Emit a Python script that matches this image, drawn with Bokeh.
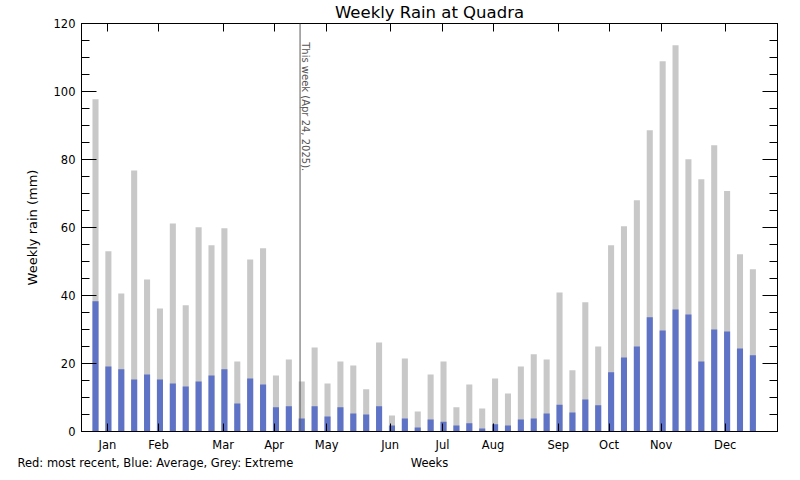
import math
from bokeh.plotting import figure
from bokeh.models import (ColumnDataSource, Range1d, LinearAxis, FixedTicker,
                          SingleIntervalTicker, Span, Label, Title,
                          CustomJSTickFormatter)
from bokeh.embed import file_html
from bokeh.resources import INLINE

# ---- data ----
weeks = list(range(1, 53))
extreme = [97.7, 53.0, 40.6, 76.8, 44.7, 36.2, 61.2, 37.1, 60.1, 54.8, 59.8, 20.6,
           50.6, 53.9, 16.5, 21.2, 14.7, 24.7, 14.1, 20.6, 19.4, 12.4, 26.2, 4.7,
           21.5, 5.9, 16.8, 20.6, 7.1, 13.8, 6.8, 15.6, 11.2, 19.1, 22.7, 21.2,
           40.9, 18.0, 38.0, 25.0, 54.8, 60.4, 68.0, 88.6, 108.9, 113.6, 80.1, 74.2,
           84.2, 70.7, 52.1, 47.7]
average = [38.3, 19.1, 18.3, 15.3, 16.8, 15.3, 14.1, 13.2, 14.7, 16.5, 18.3, 8.2,
           15.6, 13.8, 7.1, 7.4, 3.8, 7.4, 4.4, 7.1, 5.3, 5.0, 7.4, 1.8,
           3.8, 1.2, 3.5, 2.9, 1.8, 2.4, 0.9, 2.1, 1.8, 3.5, 3.8, 5.3,
           7.9, 5.6, 9.4, 7.7, 17.4, 21.8, 25.0, 33.6, 29.7, 35.9, 34.4, 20.6,
           30.0, 29.4, 24.4, 22.4]
month_names = ["Jan", "Feb", "Mar", "Apr", "May", "Jun", "Jul", "Aug", "Sep",
               "Oct", "Nov", "Dec"]
month_ticks = [1.93, 5.89, 10.9, 14.86, 18.93, 23.86, 27.92, 31.84, 36.9, 40.84,
               44.88, 49.85]
this_week = 16.87
this_week_text = "This week (Apr 24, 2025)."
title_text = "Weekly Rain at Quadra"
caption_text = "Red: most recent, Blue: Average, Grey: Extreme"

FONT = "DejaVu Sans"
GREY = "#c8c8c8"
BLUE = "#5e72c6"

src = ColumnDataSource(dict(x=weeks, extreme=extreme, average=average))

p = figure(width=792, height=472, output_backend="svg", toolbar_location=None,
           x_range=Range1d(-0.086, 53.91), y_range=Range1d(0, 120),
           x_axis_location=None, y_axis_location=None,
           min_border_left=81, min_border_right=15, min_border_top=23,
           min_border_bottom=41)
p.grid.visible = False
p.outline_line_color = "black"
p.background_fill_color = "white"
p.border_fill_color = "white"

p.title.text = title_text
p.title.align = "center"
p.title.vertical_align = "top"
p.title.text_font = FONT
p.title.text_font_size = "16.5px"
p.title.text_font_style = "normal"
p.title.text_color = "black"
p.title.standoff = 0

p.vbar(x="x", top="extreme", width=0.47, source=src, fill_color=GREY,
       line_color=None)
p.vbar(x="x", top="average", width=0.47, source=src, fill_color=BLUE,
       line_color=None)

blank = CustomJSTickFormatter(code="return ''")

def style_axis(ax, tick_in, minor_in):
    ax.axis_line_color = "black"
    ax.major_tick_line_color = "black"
    ax.minor_tick_line_color = "black"
    ax.major_tick_in = tick_in
    ax.major_tick_out = 0
    ax.minor_tick_in = minor_in
    ax.minor_tick_out = 0
    ax.major_label_text_font = FONT
    ax.major_label_text_font_size = "11.5px"
    ax.major_label_text_color = "black"
    ax.axis_label_text_font = FONT
    ax.axis_label_text_font_style = "normal"
    ax.axis_label_text_color = "black"

# left y axis
yl = LinearAxis(ticker=SingleIntervalTicker(interval=20, num_minor_ticks=4),
                axis_label="Weekly rain (mm)")
style_axis(yl, 15, 8)
yl.major_label_standoff = 6
yl.axis_label_standoff = 11
yl.axis_label_text_font_size = "13px"
p.add_layout(yl, "left")

# right y axis (ticks only)
yr = LinearAxis(ticker=SingleIntervalTicker(interval=20, num_minor_ticks=4),
                formatter=blank)
style_axis(yr, 15, 8)
yr.major_label_text_font_size = "0px"
yr.major_label_standoff = 0
p.add_layout(yr, "right")

# bottom x axis with month labels
xb = LinearAxis(ticker=FixedTicker(ticks=month_ticks, minor_ticks=[]),
                axis_label="Weeks")
style_axis(xb, 8, 0)
xb.major_label_overrides = {t: m for t, m in zip(month_ticks, month_names)}
xb.major_label_standoff = 6
xb.axis_label_standoff = 1
xb.axis_label_text_font_size = "11.5px"
p.add_layout(xb, "below")

# caption on the same line as the x-axis label
cap = Title(text=caption_text, align="left", offset=-64, standoff=-34,
            vertical_align="top", text_font=FONT, text_font_size="11.5px",
            text_font_style="normal", text_color="black")
p.add_layout(cap, "below")

# top x axis (ticks only)
xt = LinearAxis(ticker=FixedTicker(ticks=month_ticks, minor_ticks=[]),
                formatter=blank)
style_axis(xt, 8, 0)
xt.major_label_text_font_size = "0px"
xt.major_label_standoff = 0
p.add_layout(xt, "above")

# "this week" marker
p.add_layout(Span(location=this_week, dimension="height", line_color="#5a5a5a",
                  line_width=1))
p.add_layout(Label(x=this_week, y=114.5, text=this_week_text, angle=-math.pi / 2,
                   text_align="left", text_baseline="bottom",
                   text_font=FONT, text_font_size="10px", text_color="#555555"))

open("out.html", "w").write(file_html(p, INLINE))
